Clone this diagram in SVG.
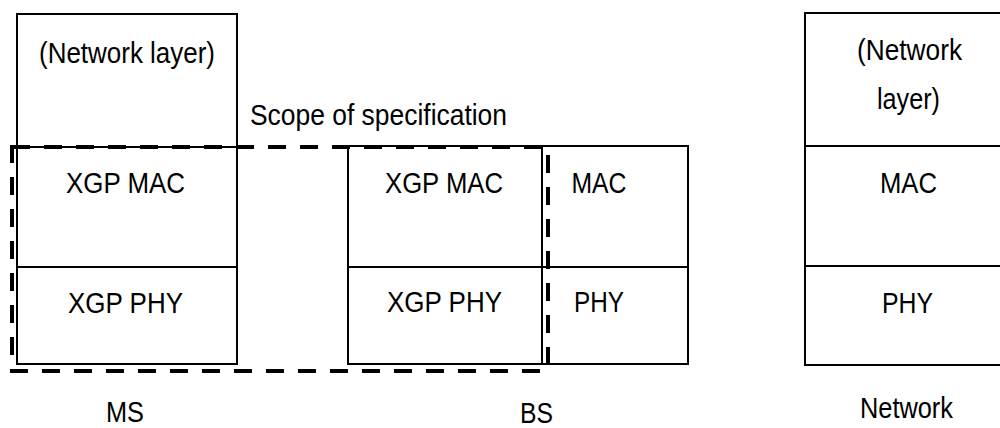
<svg xmlns="http://www.w3.org/2000/svg" width="1000" height="428" viewBox="0 0 1000 428">
<style>
.box{fill:none;stroke:#000;stroke-width:2}
.div{stroke:#000;stroke-width:2}
.scope{fill:none;stroke:#000;stroke-width:4;stroke-dasharray:18 14}
text{font-family:"Liberation Sans",Arial,sans-serif;font-size:29px;fill:#000;text-anchor:middle}
</style>
<rect width="1000" height="428" fill="#fff"/>
<g id="ms">
<rect class="box" x="17" y="14" width="220" height="350"/>
<line class="div" x1="17" y1="147" x2="237" y2="147"/>
<line class="div" x1="17" y1="267" x2="237" y2="267"/>
<text x="127" y="63" textLength="176" lengthAdjust="spacingAndGlyphs">(Network layer)</text>
<text x="125.5" y="193" textLength="119" lengthAdjust="spacingAndGlyphs">XGP MAC</text>
<text x="125.5" y="313" textLength="115" lengthAdjust="spacingAndGlyphs">XGP PHY</text>
<text x="125" y="422" textLength="38" lengthAdjust="spacingAndGlyphs">MS</text>
</g>
<g id="bs-xgp">
<rect class="box" x="348" y="146" width="194" height="218"/>
<line class="div" x1="348" y1="267" x2="542" y2="267"/>
<text x="444" y="193" textLength="118" lengthAdjust="spacingAndGlyphs">XGP MAC</text>
<text x="444.5" y="312" textLength="115" lengthAdjust="spacingAndGlyphs">XGP PHY</text>
</g>
<g id="bs-net">
<rect class="box" x="542" y="146" width="146" height="218"/>
<line class="div" x1="542" y1="267" x2="688" y2="267"/>
<text x="599" y="193" textLength="55" lengthAdjust="spacingAndGlyphs">MAC</text>
<text x="599" y="312" textLength="50" lengthAdjust="spacingAndGlyphs">PHY</text>
</g>
<text x="536.5" y="423" textLength="33" lengthAdjust="spacingAndGlyphs">BS</text>
<g id="network">
<rect class="box" x="805" y="13" width="200" height="352"/>
<line class="div" x1="805" y1="146" x2="1000" y2="146"/>
<line class="div" x1="805" y1="266" x2="1000" y2="266"/>
<text x="909.5" y="60" textLength="105" lengthAdjust="spacingAndGlyphs">(Network</text>
<text x="908.5" y="109" textLength="63" lengthAdjust="spacingAndGlyphs">layer)</text>
<text x="908.5" y="193" textLength="57" lengthAdjust="spacingAndGlyphs">MAC</text>
<text x="907.5" y="313" textLength="51" lengthAdjust="spacingAndGlyphs">PHY</text>
<text x="906.5" y="418" textLength="93" lengthAdjust="spacingAndGlyphs">Network</text>
</g>
<g id="connectors">
<rect id="scope" class="scope" x="12" y="147" width="536" height="224"/>
<text x="378.5" y="125" textLength="257" lengthAdjust="spacingAndGlyphs">Scope of specification</text>
</g>
</svg>
